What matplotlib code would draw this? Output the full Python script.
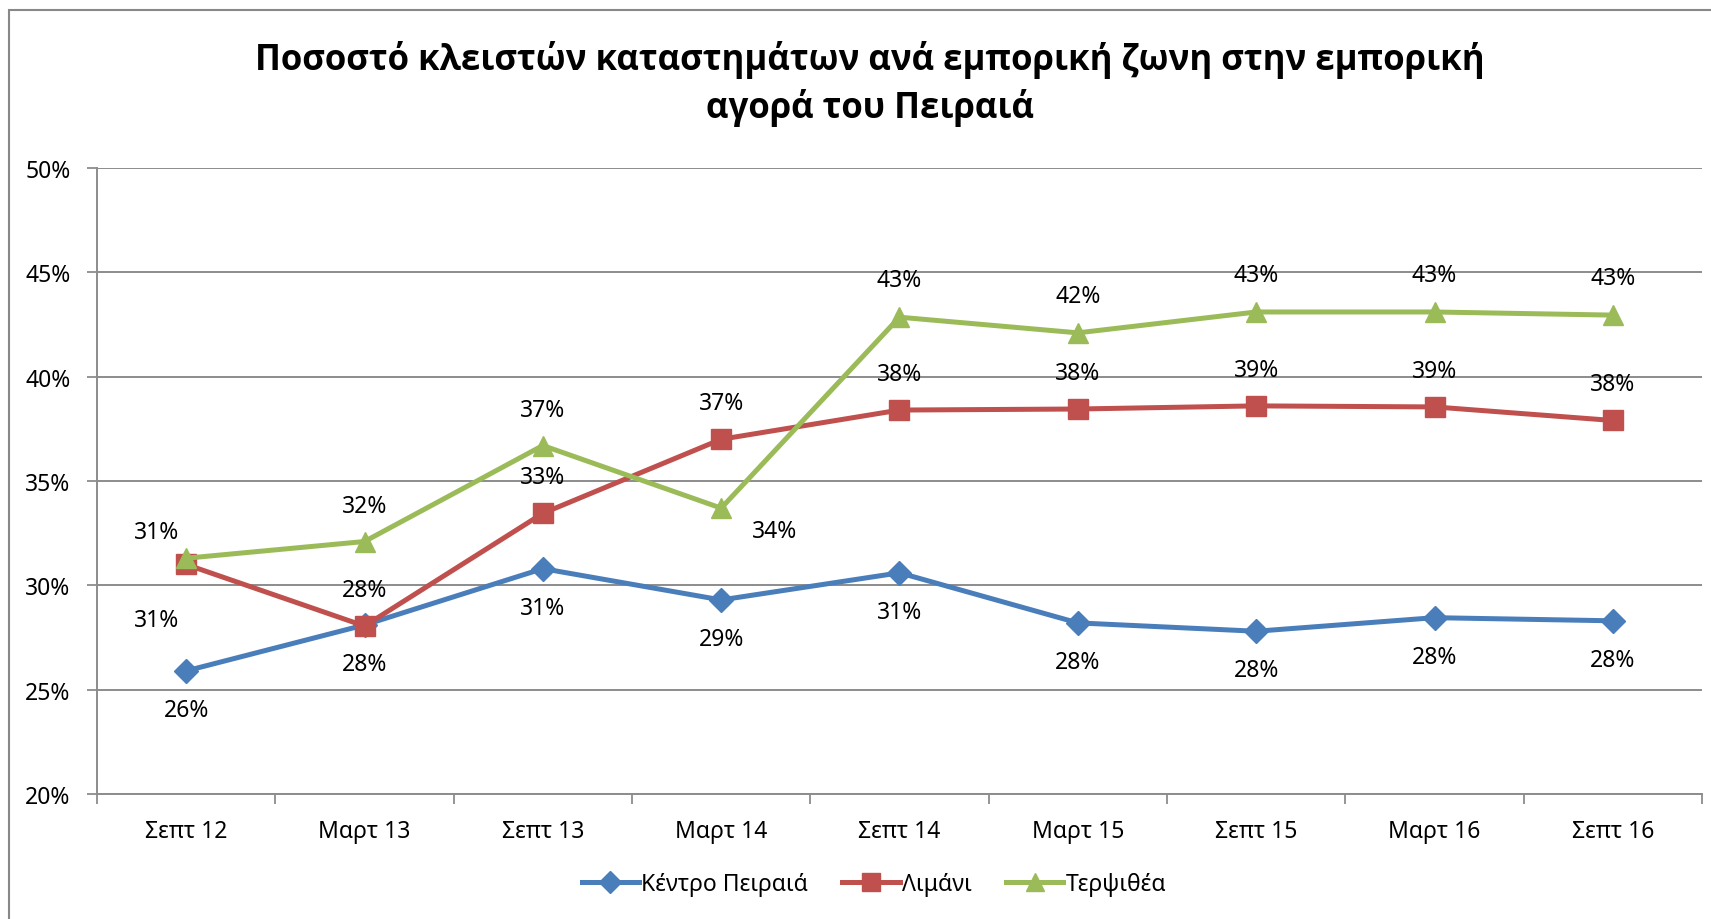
import matplotlib
matplotlib.use("Agg")
import matplotlib.pyplot as plt
from matplotlib.patches import Rectangle

plt.rcParams['font.family'] = ['Noto Sans', 'DejaVu Sans']

periods = ["Σεπτ 12", "Μαρτ 13", "Σεπτ 13", "Μαρτ 14", "Σεπτ 14",
           "Μαρτ 15", "Σεπτ 15", "Μαρτ 16", "Σεπτ 16"]
kentro = [25.9, 28.1, 30.8, 29.3, 30.6, 28.2, 27.8, 28.45, 28.3]
limani = [31.0, 28.05, 33.45, 37.0, 38.4, 38.45, 38.6, 38.55, 37.9]
terpsithea = [31.3, 32.1, 36.7, 33.7, 42.85, 42.1, 43.1, 43.1, 42.95]
y_ticks = [20, 25, 30, 35, 40, 45, 50]

title = "Ποσοστό κλειστών καταστημάτων ανά εμπορική ζωνη στην εμπορική\nαγορά του Πειραιά"

# label offsets in pixels (dx, dy), dy positive up
off_kentro = [(0, -39)] * 9
off_limani = [(-30, -56)] + [(0, 36)] * 8
off_terps = [(-30, 26), (0, 36), (0, 36), (53, -23)] + [(0, 37)] * 5

series = [
    ("Κέντρο Πειραιά", kentro, "#4A7EBB", "D", 12, off_kentro),
    ("Λιμάνι", limani, "#C0504D", "s", 15, off_limani),
    ("Τερψιθέα", terpsithea, "#9BBB59", "^", 15, off_terps),
]

fs = 16.5
W, H = 1711, 920
fig = plt.figure(figsize=(W / 100, H / 100), dpi=100)
ax = fig.add_axes([97 / W, 1 - 795 / H, (1702 - 97) / W, (795 - 169) / H])

grid_c = "#8c8c8c"
x = list(range(len(periods)))
for name, vals, col, mk, ms, offs in series:
    ax.plot(x, vals, color=col, lw=3.6, marker=mk, ms=ms, mec=col, mfc=col,
            label=name, zorder=3, solid_joinstyle="round")
    for xi, v, (dx, dy) in zip(x, vals, offs):
        ax.annotate(f"{round(v):d}%", (xi, v), xytext=(dx, dy),
                    textcoords="offset pixels", ha="center", va="center",
                    fontsize=fs, color="#000000", zorder=5)

ax.set_xlim(-0.5, len(periods) - 0.5)
ax.set_ylim(20, 50)
ax.set_yticks(y_ticks)
ax.set_yticklabels([f"{t}%" for t in y_ticks])
ax.set_xticks([i - 0.5 for i in range(len(periods) + 1)])
ax.set_xticklabels([])
ax.set_xticks(x, minor=True)
ax.set_xticklabels(periods, minor=True)
ax.tick_params(axis="x", which="major", length=7, width=1.3, color=grid_c, direction="out")
ax.tick_params(axis="x", which="minor", length=0, pad=18, labelsize=fs)
ax.tick_params(axis="y", length=7, width=1.3, color=grid_c, pad=12, labelsize=fs)
ax.grid(axis="y", color=grid_c, lw=1.4, zorder=0)
ax.set_axisbelow(True)
for s in ["top", "right"]:
    ax.spines[s].set_visible(False)
for s in ["left", "bottom"]:
    ax.spines[s].set_color(grid_c)
    ax.spines[s].set_linewidth(1.4)

fig.text(870 / W, 1 - 84 / H, title, ha="center", va="center", fontsize=25,
         fontweight="bold", family=["Open Sans", "DejaVu Sans"], linespacing=1.35)

fig.legend(loc="center", bbox_to_anchor=(874 / W, 1 - 885 / H), ncol=3,
           frameon=False, fontsize=fs, handlelength=2.5, handletextpad=0.1,
           columnspacing=1.5, markerscale=0.9)

# outer chart border (right and bottom fall outside the image)
fig.add_artist(Rectangle((8.5 / W, -0.1), 1.2, 1.1 - 11 / H, transform=fig.transFigure,
                         fill=False, ec="#888888", lw=1.5))

fig.savefig("out.png", dpi=100)
